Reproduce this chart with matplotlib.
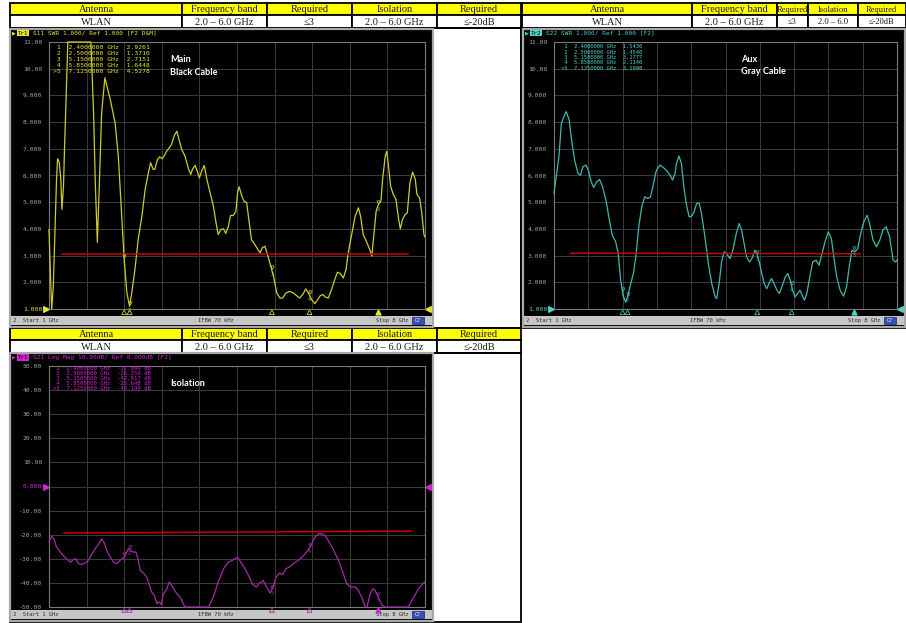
import matplotlib.pyplot as plt
import numpy as np
from matplotlib.patches import Rectangle

# ---- values (GHz / SWR / dB) ----
main_freq = [1.00, 1.03, 1.05, 1.08, 1.11, 1.14, 1.16, 1.19, 1.22, 1.24,
             1.27, 1.29, 1.32, 1.35, 1.78, 1.83, 1.86, 1.90, 1.94, 1.98,
             2.04, 2.14, 2.23, 2.29, 2.35, 2.40, 2.45, 2.50, 2.54, 2.60,
             2.66, 2.73, 2.79, 2.85, 2.89, 2.94, 2.97, 3.02, 3.06, 3.11,
             3.16, 3.19, 3.24, 3.28, 3.33, 3.38, 3.42, 3.47, 3.53, 3.60,
             3.64, 3.67, 3.72, 3.76, 3.80, 3.84, 3.89, 3.94, 4.00, 4.06,
             4.11, 4.15, 4.20, 4.25, 4.29, 4.34, 4.38, 4.43, 4.48, 4.51,
             4.54, 4.59, 4.63, 4.68, 4.72, 4.77, 4.82, 4.87, 4.93, 4.97,
             5.02, 5.05, 5.12, 5.18, 5.24, 5.30, 5.35, 5.41, 5.48, 5.55,
             5.61, 5.67, 5.74, 5.78, 5.83, 5.89, 5.95, 6.00, 6.05, 6.10,
             6.14, 6.20, 6.26, 6.33, 6.37, 6.42, 6.48, 6.53, 6.57, 6.64,
             6.70, 6.76, 6.80, 6.85, 6.92, 6.97, 7.01, 7.04, 7.09, 7.13,
             7.18, 7.21, 7.26, 7.29, 7.32, 7.36, 7.41, 7.46, 7.51, 7.54,
             7.58, 7.63, 7.67, 7.72, 7.77, 7.82, 7.85, 7.90, 7.94, 7.98,
             8.00]
main_swr = [3.98, 2.10, 1.00, 1.85, 3.85, 5.85, 6.63, 6.50, 5.85, 4.73,
            5.60, 7.10, 8.98, 11.0, 11.0, 8.35, 5.85, 3.50, 5.85, 8.35,
            9.66, 8.85, 7.98, 6.73, 4.60, 2.85, 1.60, 1.10, 1.60, 2.48,
            3.60, 4.48, 5.48, 6.10, 6.48, 6.23, 6.23, 6.60, 6.70, 6.63,
            6.79, 6.91, 7.04, 7.16, 7.48, 7.66, 7.35, 6.98, 6.73, 6.23,
            6.04, 6.23, 6.38, 6.16, 5.91, 6.16, 6.38, 5.85, 5.35, 4.85,
            4.23, 3.79, 3.98, 4.00, 3.83, 4.10, 4.50, 4.50, 4.66, 5.35,
            5.58, 5.23, 5.04, 4.98, 4.35, 3.60, 3.45, 3.29, 3.10, 3.29,
            3.35, 3.16, 2.66, 2.23, 1.60, 1.41, 1.41, 1.60, 1.66, 1.60,
            1.50, 1.41, 1.60, 1.75, 1.60, 1.35, 1.20, 1.35, 1.50, 1.54,
            1.45, 1.41, 1.73, 2.16, 2.38, 2.33, 2.16, 2.48, 3.10, 3.85,
            4.48, 4.79, 4.48, 3.79, 3.48, 3.23, 2.98, 3.60, 4.66, 4.91,
            5.04, 5.85, 6.73, 6.91, 6.35, 5.60, 5.29, 5.10, 4.35, 4.00,
            4.35, 4.54, 4.60, 5.73, 6.13, 5.85, 5.29, 5.16, 4.60, 3.79,
            3.70]

aux_freq = [1.00, 1.10, 1.15, 1.20, 1.25, 1.31, 1.35, 1.42, 1.49, 1.54,
            1.59, 1.65, 1.70, 1.76, 1.81, 1.87, 1.93, 1.99, 2.06, 2.13,
            2.19, 2.26, 2.31, 2.36, 2.41, 2.46, 2.50, 2.55, 2.62, 2.67,
            2.73, 2.79, 2.85, 2.92, 2.97, 3.03, 3.09, 3.16, 3.23, 3.30,
            3.37, 3.42, 3.47, 3.50, 3.55, 3.60, 3.65, 3.71, 3.76, 3.81,
            3.86, 3.91, 3.96, 4.01, 4.08, 4.15, 4.22, 4.29, 4.32, 4.37,
            4.42, 4.47, 4.52, 4.59, 4.65, 4.72, 4.78, 4.83, 4.88, 4.93,
            4.99, 5.04, 5.10, 5.15, 5.19, 5.24, 5.29, 5.34, 5.40, 5.44,
            5.49, 5.55, 5.60, 5.65, 5.72, 5.77, 5.82, 5.87, 5.92, 5.97,
            6.02, 6.08, 6.11, 6.16, 6.22, 6.28, 6.35, 6.41, 6.47, 6.54,
            6.60, 6.66, 6.72, 6.77, 6.84, 6.91, 6.97, 7.03, 7.08, 7.14,
            7.20, 7.25, 7.32, 7.39, 7.44, 7.51, 7.58, 7.65, 7.71, 7.78,
            7.85, 7.92, 7.97, 8.00]
aux_swr = [5.33, 6.70, 7.95, 8.20, 8.39, 8.08, 7.45, 6.58, 6.08, 6.01,
           6.33, 6.39, 6.20, 5.76, 5.55, 5.76, 5.85, 5.58, 5.08, 4.33,
           3.76, 3.51, 3.08, 2.08, 1.51, 1.26, 1.45, 1.83, 2.33, 2.95,
           4.08, 4.83, 5.20, 5.14, 5.20, 5.70, 6.20, 6.39, 6.30, 6.18,
           6.01, 5.83, 6.08, 6.45, 6.73, 6.45, 5.58, 4.83, 4.45, 4.48,
           4.64, 4.95, 4.98, 4.58, 3.70, 2.70, 1.95, 1.45, 1.39, 1.95,
           2.76, 3.14, 3.08, 2.89, 3.20, 3.83, 4.20, 3.95, 3.45, 2.95,
           2.76, 2.89, 3.20, 3.01, 2.76, 2.33, 1.95, 1.76, 2.01, 2.14,
           1.95, 1.70, 1.58, 1.83, 2.20, 2.33, 2.08, 1.70, 1.45, 1.58,
           1.70, 1.45, 1.33, 1.58, 2.20, 2.76, 2.83, 2.64, 3.08, 3.58,
           3.89, 3.64, 2.83, 2.20, 1.70, 1.48, 1.83, 2.64, 3.20, 3.14,
           3.26, 3.76, 4.26, 4.51, 4.20, 3.58, 3.33, 3.58, 3.95, 4.08,
           3.70, 2.83, 2.76, 2.83]

iso_freq = [1.00, 1.05, 1.09, 1.14, 1.21, 1.28, 1.36, 1.40, 1.45, 1.50,
            1.55, 1.61, 1.67, 1.73, 1.80, 1.86, 1.92, 1.98, 2.03, 2.07,
            2.14, 2.20, 2.27, 2.32, 2.40, 2.48, 2.53, 2.57, 2.62, 2.66,
            2.70, 2.76, 2.82, 2.87, 2.91, 2.96, 3.01, 3.05, 3.09, 3.13,
            3.18, 3.24, 3.30, 3.38, 3.44, 3.50, 3.53, 3.97, 4.06, 4.15,
            4.25, 4.34, 4.43, 4.51, 4.57, 4.65, 4.73, 4.79, 4.86, 4.92,
            4.99, 5.05, 5.12, 5.17, 5.23, 5.29, 5.35, 5.41, 5.48, 5.55,
            5.64, 5.74, 5.83, 5.89, 5.95, 6.02, 6.08, 6.14, 6.20, 6.30,
            6.39, 6.48, 6.54, 6.61, 6.70, 6.76, 6.82, 6.89, 6.92, 6.98,
            7.03, 7.07, 7.13, 7.20, 7.26, 7.69, 7.79, 7.88, 7.97, 8.00]
iso_db = [-23.1, -20.7, -21.7, -25.1, -27.2, -29.0, -30.7, -31.4, -30.4, -30.0,
          -32.0, -32.3, -31.8, -30.7, -27.9, -25.8, -24.0, -21.7, -23.5, -26.2,
          -29.3, -31.4, -32.0, -30.7, -29.3, -25.8, -26.8, -27.2, -27.2, -30.4,
          -34.8, -35.9, -37.6, -41.0, -43.8, -45.2, -48.6, -47.9, -48.9, -44.5,
          -43.1, -39.6, -41.7, -44.5, -45.9, -48.6, -50.0, -50.0, -45.9, -39.6,
          -34.1, -31.4, -30.4, -29.3, -31.4, -34.1, -37.6, -40.6, -41.7, -40.1,
          -39.0, -41.7, -44.2, -41.7, -37.6, -35.9, -36.5, -34.1, -33.4, -32.0,
          -30.7, -28.6, -26.2, -23.8, -21.0, -19.6, -19.6, -20.3, -22.4, -26.5,
          -30.7, -36.2, -40.3, -41.7, -41.7, -43.1, -45.9, -50.0, -50.0, -44.5,
          -42.4, -43.1, -45.9, -49.3, -50.0, -50.0, -45.9, -42.4, -40.1, -39.6]

marker_freq = [2.4, 2.5, 5.15, 5.85, 7.125]
main_marker_vals = [2.9261, 1.3710, 2.7151, 1.6448, 4.5278]
aux_marker_vals = [1.5430, 1.4540, 3.1777, 2.1140, 3.1998]
iso_marker_vals = [-27.864, -26.250, -42.517, -25.648, -45.190]

# hand-drawn red limit lines: (freq start, freq end), (value start, value end)
main_limit = ([1.25, 7.69], [3.06, 3.06])
aux_limit = ([1.34, 7.25], [3.09, 3.07])
iso_limit = ([1.28, 7.75], [-19.3, -18.5])

table_header = ["Antenna", "Frequency band", "Required", "Isolation", "Required"]
table_row = ["WLAN", "2.0 – 6.0 GHz", "≤3", "2.0 – 6.0 GHz", "≤-20dB"]
table_row_narrow = ["WLAN", "2.0 – 6.0 GHz", "≤3", "2.0 – 6.0", "≤-20dB"]

swr_ticks = list(range(1, 12))
swr_labels = ["1.000", "2.000", "3.000", "4.000", "5.000", "6.000",
              "7.000", "8.000", "9.000", "10.00", "11.00"]
db_ticks = list(range(-50, 51, 10))
db_labels = ["-50.00", "-40.00", "-30.00", "-20.00", "-10.00", "0.000",
             "10.00", "20.00", "30.00", "40.00", "50.00"]

W, H = 906, 623
MONO = "DejaVu Sans Mono"

fig = plt.figure(figsize=(W / 100, H / 100), dpi=100)
bg = fig.add_axes([0, 0, 1, 1])
bg.set_xlim(0, W)
bg.set_ylim(H, 0)
bg.axis("off")

# transparent overlay for text that sits on top of the plot areas
fg = fig.add_axes([0, 0, 1, 1])
fg.set_xlim(0, W)
fg.set_ylim(H, 0)
fg.axis("off")
fg.set_zorder(10)
fg.patch.set_alpha(0)


def px_axes(x0, y0, x1, y1):
    return fig.add_axes([x0 / W, 1 - y1 / H, (x1 - x0) / W, (y1 - y0) / H])


def draw_table(xs, y0, header, row, sizes, row_h=12.4):
    ys = [y0, y0 + row_h, y0 + 2 * row_h]
    for i in range(len(header)):
        for j, (txt, fc) in enumerate([(header[i], "#ffff00"), (row[i], "white")]):
            bg.add_patch(Rectangle((xs[i], ys[j]), xs[i + 1] - xs[i], row_h,
                                   facecolor=fc, edgecolor="black", lw=1.3))
            bg.text((xs[i] + xs[i + 1]) / 2, ys[j] + row_h / 2 + 0.5, txt,
                    ha="center", va="center", fontsize=sizes[i],
                    family="Liberation Serif", color="#1a1a1a")


def draw_vna(frame, grid, color, title_color, trace_id, title, freq, vals,
             ylim, ticks, labels, ref_val, limit, mvals, mfmt, mtab, msize,
             note, note_xy):
    x0, y0, x1, y1 = frame
    gx0, gy0, gx1, gy1 = grid
    bg.add_patch(Rectangle((x0, y0), x1 - x0, y1 - y0, facecolor="black",
                           edgecolor="#a8a8a8", lw=1.6))
    # title bar
    ty = y0 + 4.3
    bg.text(x0 + 2, ty, "▶", color=title_color, fontsize=3.5, va="center")
    bg.text(x0 + 8, ty, trace_id, color="black", fontsize=4.2, family=MONO,
            va="center", bbox=dict(boxstyle="square,pad=0.12", fc=title_color, ec="none"))
    bg.text(x0 + 23, ty, title, color=title_color, fontsize=4.4, family=MONO, va="center")
    # status bar
    sb0 = y1 - 11.5
    bg.add_patch(Rectangle((x0 + 1, sb0), x1 - x0 - 2, 9.5, facecolor="#c6c6c6",
                           edgecolor="none"))
    sy = sb0 + 4.8
    bg.text(x0 + 3, sy, "2  Start 1 GHz", fontsize=4, family=MONO, color="#303030", va="center")
    bg.text((x0 + x1) / 2 - 6, sy, "IFBW 70 kHz", fontsize=4, family=MONO,
            color="#303030", va="center", ha="center")
    bg.text(x1 - 24, sy, "Stop 8 GHz", fontsize=4, family=MONO, color="#303030",
            va="center", ha="right")
    bg.add_patch(Rectangle((x1 - 21, sb0 + 1.5), 12, 6.5, facecolor="#3850b8",
                           edgecolor="#1c2a70", lw=0.5))
    bg.text(x1 - 15, sy, "C?", fontsize=3.5, color="white", va="center", ha="center")

    ax = px_axes(gx0, gy0, gx1, gy1)
    ax.set_facecolor("black")
    ax.set_xlim(1, 8)
    ax.set_ylim(*ylim)
    ax.set_xticks(np.linspace(1, 8, 11))
    ax.set_yticks(ticks)
    ax.set_yticklabels(labels)
    ax.tick_params(length=0, labelbottom=False, labelsize=4.6,
                   labelcolor="#a4a4a4", pad=5)
    for lab in ax.get_yticklabels():
        lab.set_family(MONO)
        if lab.get_text() in ("1.000", "0.000"):
            lab.set_color(title_color)
    ax.grid(color="#3c3c3c", lw=0.7)
    for sp in ax.spines.values():
        sp.set_color("#7a7a7a")
        sp.set_linewidth(0.8)

    ax.plot(freq, vals, color=color, lw=0.9, clip_on=False, zorder=3)
    ax.plot(*limit, color="#cc0000", lw=1.1, zorder=4)

    # markers on the trace
    mv = np.interp(marker_freq, freq, vals)
    span = ylim[1] - ylim[0]
    for i, (f, v) in enumerate(zip(marker_freq, mv)):
        ax.plot(f, v + span * 0.012, marker="v", ms=2.4, mfc="none", mec=color,
                mew=0.5, zorder=5)
        ax.text(f, v - span * 0.005, str(i + 1), fontsize=3.5, color=color,
                ha="center", va="top", zorder=5)

    # stimulus markers below the grid and reference arrows
    xt = ax.get_xaxis_transform()
    ax.scatter(marker_freq[:4], [-0.012] * 4, marker="^", s=12, facecolors="none",
               edgecolors=color, lw=0.6, transform=xt, clip_on=False)
    ax.scatter(marker_freq[4:], [-0.012], marker="^", s=12, color=title_color,
               transform=xt, clip_on=False)
    yt = ax.get_yaxis_transform()
    ax.scatter([-0.008], [ref_val], marker=">", s=16, color=title_color,
               transform=yt, clip_on=False)
    ax.scatter([1.008], [ref_val], marker="<", s=16, color=title_color,
               transform=yt, clip_on=False)

    # marker table
    mx, my, step = mtab
    for i, (f, v) in enumerate(zip(marker_freq, mvals)):
        tag = ">5" if i == 4 else str(i + 1)
        fg.text(mx, my + i * step, f"{tag:>2}  {f:.7f} GHz  {mfmt.format(v)}",
                fontsize=msize, family=MONO, color=title_color, va="center")

    nx, ny = note_xy
    for k, line in enumerate(note):
        fg.text(nx, ny + k * 12.7, line, fontsize=6.6, family="Lato",
                weight="bold", color="white", va="center")


# header tables
draw_table([10, 182, 267, 352, 437, 521], 3, table_header, table_row,
           [7.5, 7.5, 7.5, 7.5, 7.5])
draw_table([522, 692, 777, 808, 858, 905.5], 3, table_header, table_row_narrow,
           [7.5, 7.5, 6.0, 6.2, 6.0])
draw_table([10, 182, 267, 352, 437, 521], 328, table_header, table_row,
           [7.5, 7.5, 7.5, 7.5, 7.5])

# cell outlines around the screenshots
for (cx0, cy0, cx1, cy1) in [(10, 28, 521, 328), (521, 28, 905.5, 328), (10, 352.8, 521, 622)]:
    bg.add_patch(Rectangle((cx0, cy0), cx1 - cx0, cy1 - cy0, facecolor="none",
                           edgecolor="black", lw=1.3))

draw_vna((10, 29, 433, 327), (49, 42, 425, 309), "#cdcd2a", "#e6e632", "Tr1",
         "S11 SWR 1.000/ Ref 1.000 [F2 D&M]", main_freq, main_swr, (1, 11),
         swr_ticks, swr_labels, 1.0, main_limit, main_marker_vals, "{:.4f}",
         (53, 47.7, 5.9), 4.6, ["Main", "Black Cable"], (170, 60))

draw_vna((523, 29, 905, 327), (554, 42, 897, 309), "#3fb8b0", "#4cd4cc", "Tr2",
         "S22 SWR 1.000/ Ref 1.000 [F2]", aux_freq, aux_swr, (1, 11),
         swr_ticks, swr_labels, 1.0, aux_limit, aux_marker_vals, "{:.4f}",
         (561, 47, 5.3), 4.0, ["Aux", "Gray Cable"], (741, 59))

draw_vna((10, 353, 433, 621), (49, 366, 425, 607), "#a42ca4", "#d424d4", "Tr1",
         "S21 Log Mag 10.00dB/ Ref 0.000dB [F2]", iso_freq, iso_db, (-50, 50),
         db_ticks, db_labels, 0.0, iso_limit, iso_marker_vals, "{:.3f} dB",
         (53, 368.5, 5.1), 4.1, ["Isolation"], (170, 384))

fig.savefig("out.png", dpi=100)
